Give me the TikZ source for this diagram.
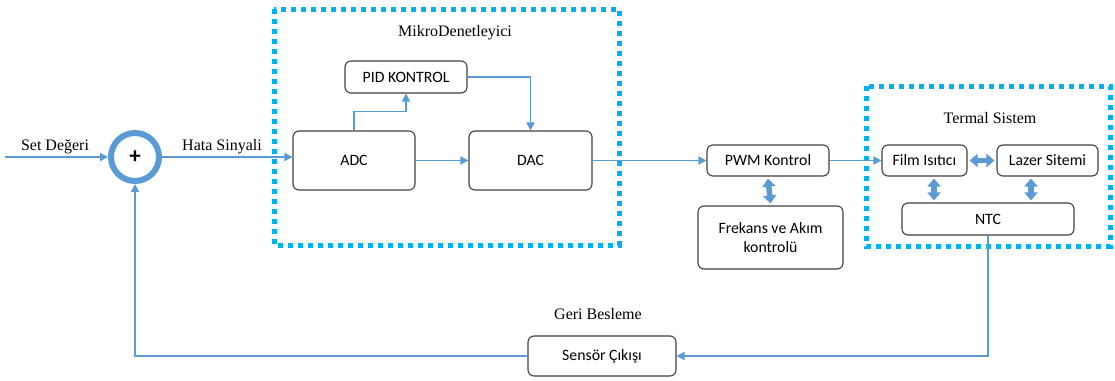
\documentclass[tikz,border=0pt]{standalone}
\usepackage{fontspec}
\setmainfont{Carlito}
\newfontfamily\serifcap{Liberation Serif}
\usetikzlibrary{arrows.meta}
\definecolor{lineblue}{RGB}{91,155,213}
\definecolor{dotblue}{RGB}{0,176,240}
\definecolor{boxgray}{RGB}{64,64,64}
\begin{document}
\begin{tikzpicture}[x=1pt,y=-1pt,
  blk/.style={draw=boxgray,line width=1.1pt,rounded corners=6pt,fill=white,inner sep=0pt,font=\fontsize{15.8}{19}\selectfont,align=center},
  conn/.style={draw=lineblue,line width=1.7pt,-{Triangle[length=8pt,width=8pt]}},
  fat/.style={draw=lineblue,line width=5.5pt,{Triangle[length=8pt,width=13pt]}-{Triangle[length=8pt,width=13pt]}},
  dotbox/.style={draw=dotblue,line width=5pt,dash pattern=on 5pt off 5pt},
  captxt/.style={font=\serifcap\fontsize{16}{19}\selectfont}]
\useasboundingbox (0,0) rectangle (1115,380);
% dotted group boxes
\draw[dotbox] (274,9) rectangle (619,245);
\draw[dotbox] (866,86) rectangle (1110,246);
\node[captxt] (mikro) at (455,33) {MikroDenetleyici};
\node[captxt] (termal) at (990,118) {Termal Sistem};
% summing junction
\node[circle,draw=lineblue,line width=6pt,minimum size=48pt,inner sep=0pt,font=\bfseries\fontsize{23}{25}\selectfont] (sum) at (135,157) {+};
% blocks
\node[blk,minimum width=122pt,minimum height=32pt] (pid) at (406,77) {PID KONTROL};
\node[blk,minimum width=122pt,minimum height=59pt] (adc) at (354,160.5) {ADC};
\node[blk,minimum width=123pt,minimum height=59pt] (dac) at (530.5,160.5) {DAC};
\node[blk,minimum width=122pt,minimum height=31pt] (pwm) at (768,160.5) {PWM Kontrol};
\node[blk,minimum width=145pt,minimum height=63pt] (frek) at (770.5,237.5) {Frekans ve Akım\\kontrolü};
\node[blk,minimum width=85pt,minimum height=31pt] (film) at (924.5,160.5) {Film Isıtıcı};
\node[blk,minimum width=101pt,minimum height=31pt] (lazer) at (1047.5,160.5) {Lazer Sitemi};
\node[blk,minimum width=172pt,minimum height=32pt] (ntc) at (988,219) {NTC};
\node[blk,minimum width=148pt,minimum height=40pt] (sensor) at (602,356) {Sensör Çıkışı};
% labels
\node[captxt] (setlbl) at (55,147) {Set Değeri};
\node[captxt] (hatalbl) at (222,147) {Hata Sinyali};
\node[captxt] (geri) at (598,314) {Geri Besleme};
% connectors
\coordinate (in) at (5,157);
\draw[conn] (in) -- (sum.west);
\draw[conn] (sum.east) -- (adc.west |- sum.east);
\draw[conn] (adc.north) -- ++(0,-19) -| (pid.south);
\draw[conn] (pid.east) -| (dac.north);
\draw[conn] (adc.east) -- (dac.west);
\draw[conn] (dac.east) -- (pwm.west);
\draw[conn] (pwm.east) -- (film.west);
\draw[conn] (ntc.south) |- (sensor.east);
\draw[conn] (sensor.west) -| (sum.south);
% bidirectional fat arrows
\draw[fat] ([yshift=-2pt]pwm.south) -- ([yshift=2pt]frek.north);
\draw[fat] ([xshift=2pt]film.east) -- ([xshift=-2pt]lazer.west);
\draw[fat] ([yshift=-2pt]film.south -| 934,0) -- ([yshift=2pt]ntc.north -| 934,0);
\draw[fat] ([yshift=-2pt]lazer.south -| 1031,0) -- ([yshift=2pt]ntc.north -| 1031,0);
\end{tikzpicture}
\end{document}
